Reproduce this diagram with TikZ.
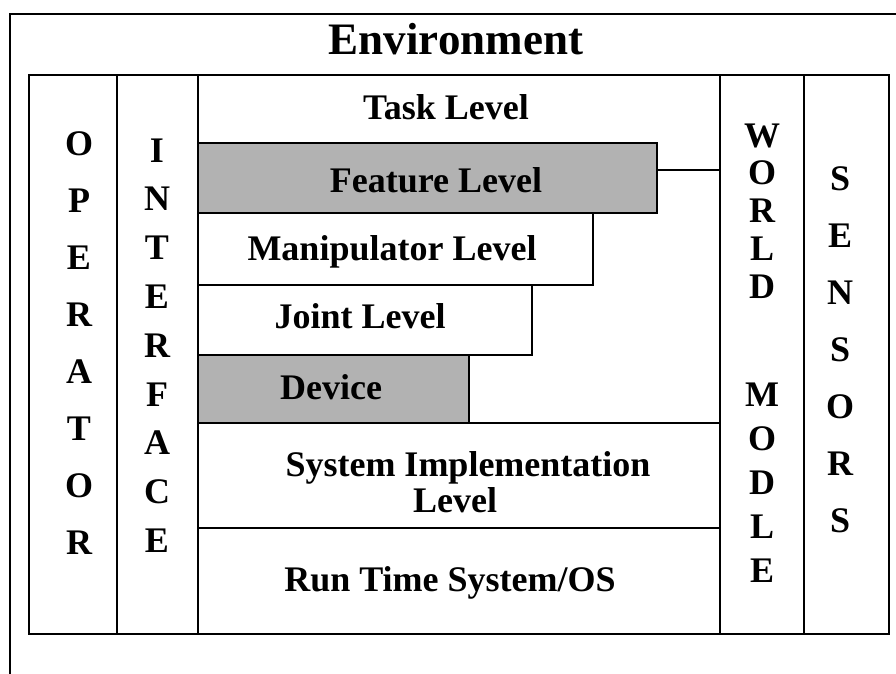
\documentclass[tikz,border=0pt]{standalone}
\usepackage{fontspec}
\setmainfont{Liberation Serif}
\begin{document}
\begin{tikzpicture}[x=1pt,y=-1pt,
  frame/.style={line width=2.6pt, line join=miter},
  region/.style={draw, line width=2.8pt, anchor=north west, inner sep=0pt, outer sep=0pt},
  shaded/.style={fill=black!30},
  lvltext/.style={font=\fontsize{36}{36}\selectfont\bfseries, anchor=base, inner sep=0pt, align=center},
  letter/.style={font=\fontsize{36}{36}\selectfont\bfseries, anchor=base, inner sep=0pt},
  title/.style={font=\fontsize{45}{45}\selectfont\bfseries, anchor=base, inner sep=0pt}]
\useasboundingbox (0,0) rectangle (896,674);

% open outer frame: top and left edges only
\coordinate (fr-tr) at (896,14);
\coordinate (fr-tl) at (10,14);
\coordinate (fr-bl) at (10,674);
\draw[frame] (fr-tr) -- (fr-tl) -- (fr-bl);
\node[title] (env) at (456,55) {Environment};

% level boxes of the central column
\node[region, shaded, minimum width=459pt, minimum height=70pt] (feat) at (198,143) {};
\node[region, minimum width=395pt, minimum height=72pt] (manip) at (198,213) {};
\node[region, minimum width=334pt, minimum height=70pt] (joint) at (198,285) {};
\node[region, shaded, minimum width=271pt, minimum height=68pt] (dev) at (198,355) {};
\node[region, minimum width=522pt, minimum height=105pt] (sysimp) at (198,423) {};
\node[region, minimum width=522pt, minimum height=106pt] (runtime) at (198,528) {};

% vertical columns
\node[region, minimum width=88pt, minimum height=559pt] (opcol) at (29,75) {};
\node[region, minimum width=81pt, minimum height=559pt] (ifcol) at (117,75) {};
\node[region, minimum width=522pt, minimum height=559pt] (midcol) at (198,75) {};
\node[region, minimum width=84pt, minimum height=559pt] (wmcol) at (720,75) {};
\node[region, minimum width=85pt, minimum height=559pt] (sncol) at (804,75) {};

% link from the feature level to the world model
\draw[line width=2.8pt] ([yshift=8pt]feat.east) -- ([yshift=8pt]feat.east -| wmcol.west);

% level labels
\node[lvltext] (t-task) at (446,120) {Task Level};
\node[lvltext] (t-feat) at (436,192) {Feature Level};
\node[lvltext] (t-manip) at (392,260) {Manipulator Level};
\node[lvltext] (t-joint) at (360,328) {Joint Level};
\node[lvltext] (t-dev) at (331,399) {Device};
\node[lvltext] (t-sys) at (468,512) {System Implementation\\Level\hspace*{26pt}};
\node[lvltext] (t-run) at (450,591) {Run Time System/OS};

% stacked column captions
\foreach \c [count=\i from 0] in {O,P,E,R,A,T,O,R}
  \node[letter] (op-\i) at (79,155+57*\i) {\c};
\foreach \c [count=\i from 0] in {I,N,T,E,R,F,A,C,E}
  \node[letter] (if-\i) at (157,162+48.8*\i) {\c};
\foreach \c [count=\i from 0] in {W,O,R,L,D}
  \node[letter] (wd-\i) at (762,147+37.8*\i) {\c};
\foreach \c [count=\i from 0] in {M,O,D,L,E}
  \node[letter] (md-\i) at (762,406+44*\i) {\c};
\foreach \c [count=\i from 0] in {S,E,N,S,O,R,S}
  \node[letter] (sn-\i) at (840,190+57*\i) {\c};
\end{tikzpicture}
\end{document}
